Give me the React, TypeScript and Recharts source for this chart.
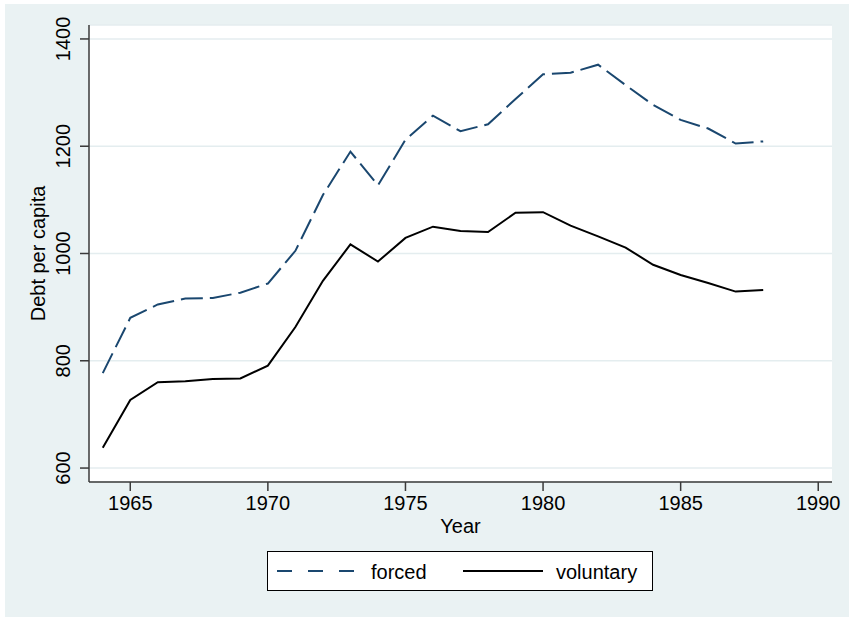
import { LineChart, Line, XAxis, YAxis, CartesianGrid, Legend } from "recharts";

const years = [
  1964, 1965, 1966, 1967, 1968, 1969, 1970, 1971, 1972, 1973, 1974, 1975, 1976,
  1977, 1978, 1979, 1980, 1981, 1982, 1983, 1984, 1985, 1986, 1987, 1988,
];
const forced = [
  777, 880, 905, 916, 917, 927, 944, 1005, 1109, 1190, 1127, 1212, 1257,
  1228, 1241, 1288, 1334, 1337, 1352, 1314, 1277, 1249, 1233, 1205, 1209,
];
const voluntary = [
  638, 727, 760, 762, 766, 767, 791, 863, 949, 1017, 985, 1029, 1050,
  1042, 1040, 1076, 1077, 1052, 1032, 1011, 979, 960, 945, 929, 932,
];
const xTicks = [1965, 1970, 1975, 1980, 1985, 1990];
const yTicks = [600, 800, 1000, 1200, 1400];

const data = years.map((year, i) => ({ year, forced: forced[i], voluntary: voluntary[i] }));

const FONT = '"Liberation Sans", Arial, Helvetica, sans-serif';
const NAVY = "#1a476f";
const AXIS = "#3a3a3a";
const BG = "#eaf2f3";

function YTick({ x, y, payload }: any) {
  return (
    <text
      x={x}
      y={y}
      transform={`rotate(-90, ${x}, ${y})`}
      textAnchor="middle"
      fill="#000"
      fontSize={20}
      fontFamily={FONT}
    >
      {payload.value}
    </text>
  );
}

function YLabel({ viewBox }: any) {
  const cx = viewBox.x + 40;
  const cy = viewBox.y + viewBox.height / 2;
  return (
    <text
      x={cx}
      y={cy}
      transform={`rotate(-90, ${cx}, ${cy})`}
      textAnchor="middle"
      fill="#000"
      fontSize={20}
      fontFamily={FONT}
    >
      Debt per capita
    </text>
  );
}

function LegendBox() {
  return (
    <svg width={386} height={40} style={{ display: "block" }}>
      <rect x={0.5} y={0.5} width={385} height={39} fill="#fff" stroke="#000" strokeWidth={1} />
      <line x1={10} x2={90} y1={20} y2={20} stroke={NAVY} strokeWidth={2} strokeDasharray="15 16" />
      <text x={104} y={28} fontSize={20} fontFamily={FONT} fill="#000">forced</text>
      <line x1={196} x2={276} y1={20} y2={20} stroke="#000" strokeWidth={2} />
      <text x={289} y={28} fontSize={20} fontFamily={FONT} fill="#000">voluntary</text>
    </svg>
  );
}

export default function App() {
  return (
    <div style={{ position: "absolute", left: 0, top: 0, width: 849, height: 617, background: "#fff", overflow: "hidden" }}>
      <div style={{ position: "absolute", left: 5, top: 4, width: 844, height: 613, background: BG }} />
      <div style={{ position: "absolute", left: 0, top: 0 }}>
        <LineChart
          width={849}
          height={617}
          data={data}
          margin={{ top: 25, right: 17, bottom: 83, left: 5 }}
          style={{ fontFamily: FONT }}
        >
          <CartesianGrid vertical={false} fill="#fff" stroke="#e4edef" strokeWidth={1.5} />
          <XAxis
            dataKey="year"
            type="number"
            domain={[1963.5, 1990.5]}
            ticks={xTicks}
            allowDataOverflow
            height={52}
            tickSize={9}
            tickMargin={5}
            tick={{ fill: "#000", fontSize: 20, fontFamily: FONT }}
            axisLine={{ stroke: AXIS, strokeWidth: 1.5 }}
            tickLine={{ stroke: AXIS, strokeWidth: 1.5 }}
            label={{ value: "Year", position: "insideBottom", offset: 1, fill: "#000", fontSize: 20, fontFamily: FONT }}
          />
          <YAxis
            type="number"
            domain={[574, 1426]}
            ticks={yTicks}
            allowDataOverflow
            width={84}
            tickSize={9}
            tickMargin={10}
            tick={<YTick />}
            axisLine={{ stroke: AXIS, strokeWidth: 1.5 }}
            tickLine={{ stroke: AXIS, strokeWidth: 1.5 }}
            label={<YLabel />}
          />
          <Legend
            layout="horizontal"
            verticalAlign="middle"
            align="center"
            wrapperStyle={{ left: 267, top: 551, width: 386, height: 40 }}
            content={() => <LegendBox />}
          />
          <Line
            type="linear"
            dataKey="forced"
            stroke={NAVY}
            strokeWidth={2}
            strokeDasharray="22 7"
            dot={false}
            activeDot={false}
            isAnimationActive={false}
          />
          <Line
            type="linear"
            dataKey="voluntary"
            stroke="#000"
            strokeWidth={2}
            dot={false}
            activeDot={false}
            isAnimationActive={false}
          />
        </LineChart>
      </div>
    </div>
  );
}
